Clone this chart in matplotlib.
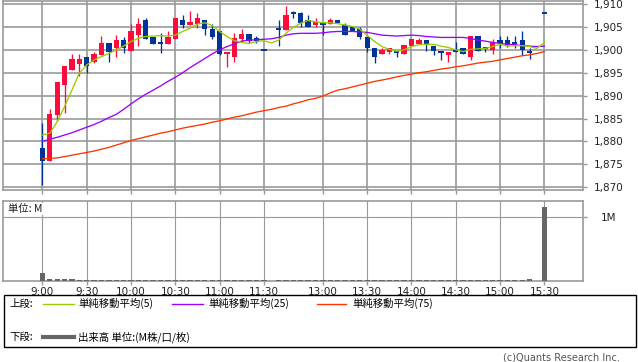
import matplotlib
matplotlib.use('Agg')
import matplotlib.pyplot as plt
from matplotlib.patches import Rectangle
from matplotlib.lines import Line2D
import numpy as np

nan = np.nan
# ---- data (5-minute bars, slot index; 31 = lunch gap, 67 = pre-close) ----
tick_labels = ["9:00", "9:30", "10:00", "10:30", "11:00", "11:30",
               "13:00", "13:30", "14:00", "14:30", "15:00", "15:30"]
tick_slots = [0, 6, 12, 18, 24, 30, 38, 44, 50, 56, 62, 68]

opens = [1878.6, 1875.8, 1885.8, 1892.3, 1895.5, 1896.9, 1898.4, 1897.4, 1898.9, 1901.5,
         1900.5, 1902.1, 1899.8, 1903.2, 1906.5, 1902.7, 1901.5, 1901.3, 1902.4, 1906.5,
         1905.4, 1905.6, 1906.5, 1904.5, 1904.1, 1899.0, 1898.4, 1902.4, 1903.5, 1902.5,
         1900.0, nan, 1904.5, 1904.3, 1908.0, 1908.0, 1906.5, 1905.4, 1905.6, 1905.6,
         1906.5, 1905.4, 1904.9, 1904.5, 1902.9, 1900.5, 1899.0, 1899.5, 1899.5, 1899.0,
         1900.9, 1901.3, 1902.1, 1900.9, 1899.5, 1898.9, 1900.0, 1900.5, 1898.4, 1903.0,
         1900.5, 1900.0, 1902.1, 1902.1, 1901.4, 1902.1, 1899.5, nan, 1908.0]
highs = [1884.0, 1887.1, 1893.0, 1896.5, 1899.1, 1899.1, 1898.4, 1899.6, 1903.0, 1901.5,
         1903.2, 1902.7, 1905.6, 1906.9, 1907.0, 1902.7, 1903.6, 1904.1, 1906.9, 1907.6,
         1908.5, 1908.1, 1906.5, 1905.6, 1904.1, 1899.6, 1903.6, 1904.5, 1903.5, 1903.0,
         1900.0, nan, 1906.5, 1909.6, 1908.5, 1908.3, 1907.6, 1906.9, 1905.9, 1906.9,
         1906.5, 1905.9, 1905.2, 1904.9, 1902.9, 1900.5, 1900.5, 1900.5, 1899.5, 1901.1,
         1902.3, 1902.5, 1902.1, 1900.9, 1899.5, 1899.5, 1901.6, 1900.5, 1903.0, 1903.0,
         1900.7, 1902.3, 1903.0, 1903.0, 1903.0, 1904.1, 1900.5, nan, 1908.0]
lows = [1870.4, 1875.8, 1884.5, 1886.3, 1895.5, 1894.3, 1894.9, 1897.1, 1898.9, 1897.4,
        1898.4, 1899.4, 1899.8, 1900.9, 1902.4, 1901.3, 1899.4, 1901.3, 1902.4, 1904.7,
        1905.4, 1904.8, 1903.3, 1902.4, 1898.9, 1896.3, 1897.4, 1901.8, 1901.4, 1901.4,
        1900.0, nan, 1900.9, 1904.3, 1906.9, 1904.9, 1904.9, 1904.9, 1903.3, 1905.6,
        1905.8, 1903.3, 1904.1, 1902.4, 1899.5, 1897.1, 1899.0, 1899.0, 1898.4, 1899.0,
        1900.9, 1901.3, 1899.8, 1898.9, 1897.8, 1897.4, 1899.5, 1899.0, 1897.8, 1899.8,
        1899.5, 1899.0, 1900.5, 1900.7, 1900.5, 1898.9, 1897.9, nan, 1908.0]
closes = [1875.8, 1886.0, 1893.0, 1896.5, 1897.9, 1897.9, 1896.5, 1899.1, 1901.5, 1899.5,
          1902.1, 1900.5, 1904.1, 1905.6, 1902.4, 1901.3, 1901.5, 1902.7, 1906.9, 1905.4,
          1906.1, 1906.9, 1904.5, 1902.9, 1899.0, 1899.6, 1902.5, 1903.5, 1902.0, 1902.0,
          1900.0, nan, 1904.5, 1907.6, 1908.0, 1905.9, 1904.9, 1906.0, 1905.6, 1906.5,
          1905.8, 1903.3, 1904.1, 1902.9, 1900.5, 1898.4, 1900.0, 1900.5, 1899.5, 1901.1,
          1902.3, 1902.1, 1901.1, 1899.8, 1899.5, 1899.5, 1899.5, 1899.0, 1903.0, 1899.8,
          1900.5, 1901.6, 1901.4, 1901.1, 1901.4, 1900.0, 1899.5, nan, 1908.0]

ma5 = [1881.4, 1881.8, 1884.3, 1887.6, 1891.2, 1894.9, 1896.7, 1897.8, 1898.5, 1899.2,
       1900.0, 1900.8, 1901.8, 1902.5, 1902.9, 1903.0, 1903.1, 1903.0, 1903.2, 1904.0,
       1904.7, 1905.6, 1905.9, 1905.3, 1904.0, 1902.9, 1902.0, 1901.6, 1901.4, 1901.8,
       1902.0, 1901.5, 1902.1, 1903.6, 1904.9, 1905.8, 1906.4, 1906.1, 1905.9, 1905.9,
       1905.7, 1905.4, 1905.1, 1904.5, 1903.2, 1901.8, 1900.7, 1900.1, 1899.7, 1900.0,
       1900.7, 1901.1, 1901.2, 1901.2, 1900.8, 1900.5, 1900.0, 1899.6, 1900.1, 1900.2,
       1900.3, 1900.7, 1901.2, 1900.8, 1900.9, 1900.9, 1900.7, 1900.3, 1901.6]
ma25 = [1880.0, 1880.5, 1880.9, 1881.4, 1881.9, 1882.5, 1883.1, 1883.7, 1884.4, 1885.2,
        1885.9, 1887.0, 1888.2, 1889.3, 1890.3, 1891.2, 1892.1, 1893.1, 1894.0, 1895.0,
        1896.1, 1897.1, 1898.1, 1899.1, 1900.0, 1900.7, 1901.3, 1901.9, 1902.1, 1902.2,
        1902.3, 1902.4, 1902.7, 1903.2, 1903.5, 1903.6, 1903.6, 1903.6, 1903.7, 1903.9,
        1904.0, 1904.0, 1904.0, 1903.9, 1903.8, 1903.5, 1903.2, 1903.1, 1903.0, 1903.1,
        1903.2, 1903.1, 1902.9, 1902.8, 1902.7, 1902.7, 1902.7, 1902.7, 1902.5, 1902.1,
        1901.9, 1901.6, 1901.4, 1901.2, 1901.1, 1900.9, 1900.8, 1900.7, 1900.8]
ma75 = [1876.2, 1876.3, 1876.4, 1876.7, 1877.0, 1877.3, 1877.6, 1877.9, 1878.3, 1878.7,
        1879.2, 1879.7, 1880.2, 1880.6, 1881.0, 1881.4, 1881.8, 1882.1, 1882.5, 1882.9,
        1883.2, 1883.5, 1883.8, 1884.2, 1884.5, 1884.9, 1885.3, 1885.6, 1886.0, 1886.4,
        1886.7, 1887.0, 1887.4, 1887.7, 1888.2, 1888.6, 1889.1, 1889.4, 1889.9, 1890.6,
        1891.2, 1891.5, 1891.9, 1892.3, 1892.7, 1893.1, 1893.4, 1893.7, 1894.1, 1894.4,
        1894.7, 1895.0, 1895.2, 1895.5, 1895.8, 1896.0, 1896.3, 1896.5, 1896.8, 1897.1,
        1897.3, 1897.5, 1897.8, 1898.1, 1898.4, 1898.7, 1898.9, 1899.2, 1899.6]

volume_m = [0.117, 0.016, 0.016, 0.016, 0.016, 0.006, 0.006, 0.006, 0.006, 0.006,
            0.006, 0.006, 0.006, 0.006, 0.006, 0.006, 0.006, 0.006, 0.006, 0.006,
            0.006, 0.006, 0.006, 0.006, 0.006, 0.006, 0.006, 0.006, 0.006, 0.006,
            0.015, 0.0, 0.006, 0.006, 0.006, 0.006, 0.006, 0.006, 0.006, 0.006,
            0.006, 0.006, 0.006, 0.006, 0.006, 0.006, 0.006, 0.006, 0.006, 0.006,
            0.006, 0.006, 0.006, 0.006, 0.006, 0.006, 0.006, 0.006, 0.006, 0.006,
            0.006, 0.006, 0.006, 0.006, 0.015, 0.015, 0.03, 0.0, 1.17]

price_ticks = [1870, 1875, 1880, 1885, 1890, 1895, 1900, 1905, 1910]

# ---- styling ----
UP = '#ff0a3c'
DOWN = '#003399'
C5 = '#99cc00'
C25 = '#9900ff'
C75 = '#ff3300'
VOLC = '#666666'
GRID = '#999999'
W, H = 638, 362

def fx(x):
    return x / W

def fy(y):
    return 1 - y / H

fig = plt.figure(figsize=(W / 100, H / 100), dpi=100)

ax = fig.add_axes([fx(3.3), fy(190), fx(582.7) - fx(3.3), fy(1) - fy(190)])
axv = fig.add_axes([fx(3.3), fy(280.5), fx(582.7) - fx(3.3), fy(201) - fy(280.5)])

n = len(opens)
x = np.arange(n)
xlim = (-5.3, 73.2)

for a in (ax, axv):
    a.set_xlim(*xlim)
    for s in a.spines.values():
        s.set_color(GRID)
        s.set_linewidth(1.2)
    a.set_xticks(tick_slots)
    a.yaxis.tick_right()
    a.tick_params(axis='both', colors=GRID, labelcolor='#222222', length=3,
                  width=1.0, labelsize=7.5)

# upper price panel
ax.set_ylim(1869.4, 1910.65)
ax.set_yticks(price_ticks)
ax.set_yticklabels([f"{p:,}" for p in price_ticks])
ax.set_xticklabels([])
ax.tick_params(axis='y', pad=5)
ax.grid(True, color=GRID, linewidth=1.2)
ax.set_axisbelow(True)

bw = 0.72
for i in range(n):
    o, h, l, c = opens[i], highs[i], lows[i], closes[i]
    if np.isnan(o):
        continue
    col = UP if c > o else DOWN
    ax.vlines(i, l, h, color=col, linewidth=0.95, zorder=3)
    body = abs(c - o)
    if body < 0.3:
        ax.hlines((o + c) / 2, i - bw / 2, i + bw / 2, color=col, linewidth=1.4, zorder=4)
    else:
        ax.bar(i, body, bottom=min(o, c), width=bw, color=col, zorder=4, linewidth=0)

ax.plot(x, ma75, color=C75, linewidth=0.95, zorder=5)
ax.plot(x, ma25, color=C25, linewidth=0.95, zorder=5)
ax.plot(x, ma5, color=C5, linewidth=0.95, zorder=5)

# lower volume panel
axv.set_ylim(0, 1.26)
axv.set_yticks([1])
axv.set_yticklabels(['1M'])
axv.set_xticklabels(tick_labels)
axv.tick_params(axis='x', pad=1.5)
axv.tick_params(axis='y', pad=10)
axv.grid(True, color=GRID, linewidth=0.8)
axv.set_axisbelow(True)
axv.bar(x, volume_m, width=0.72, color=VOLC, linewidth=0, zorder=3)
axv.text(0.008, 0.9, '単位: M', transform=axv.transAxes, fontsize=7.5,
         family=['Noto Sans CJK JP', 'DejaVu Sans'], va='center', ha='left',
         color='#222222', bbox=dict(facecolor='white', edgecolor='none', pad=0.5), zorder=6)

# legend box
fig.add_artist(Rectangle((fx(3.5), fy(346.5)), fx(636) - fx(3.5), fy(295) - fy(346.5),
                         transform=fig.transFigure, fill=False, edgecolor='black',
                         linewidth=1.0))
jp = ['Noto Sans CJK JP', 'DejaVu Sans']
ly1, ly2 = 303.5, 337
fig.text(fx(9), fy(ly1), '上段:', fontsize=7.5, family=jp, va='center', ha='left')
fig.text(fx(9), fy(ly2), '下段:', fontsize=7.5, family=jp, va='center', ha='left')
legend_items = [(43, 74, 78, C5, '単純移動平均(5)'),
                (172, 203, 208, C25, '単純移動平均(25)'),
                (317, 346, 352, C75, '単純移動平均(75)')]
for x0, x1, xt, col, lab in legend_items:
    fig.add_artist(Line2D([fx(x0), fx(x1)], [fy(ly1), fy(ly1)], color=col,
                          linewidth=1.0, transform=fig.transFigure))
    fig.text(fx(xt), fy(ly1), lab, fontsize=7.5, family=jp, va='center', ha='left')
fig.add_artist(Line2D([fx(43), fx(74)], [fy(ly2), fy(ly2)], color=VOLC,
                      linewidth=3.0, transform=fig.transFigure))
fig.text(fx(78), fy(ly2), '出来高 単位:(M株/口/枚)', fontsize=7.5, family=jp,
         va='center', ha='left')

fig.text(fx(620), fy(357), '(c)Quants Research Inc.', fontsize=7, ha='right',
         va='center', color='#555555')

fig.savefig('out.png', dpi=100, facecolor='white')
